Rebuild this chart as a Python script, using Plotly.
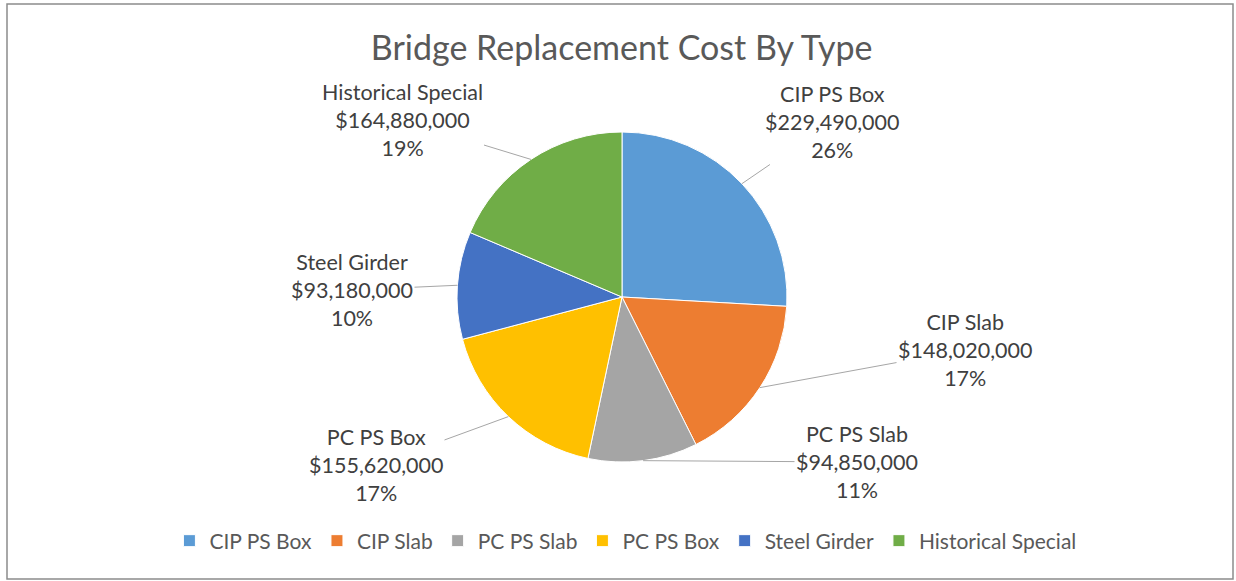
import math
import plotly.graph_objects as go

# data
types = ["CIP PS Box", "CIP Slab", "PC PS Slab", "PC PS Box", "Steel Girder", "Historical Special"]
costs = [229490000, 148020000, 94850000, 155620000, 93180000, 164880000]
pct_labels = ["26%", "17%", "11%", "17%", "10%", "19%"]
colors = ["#5B9BD5", "#ED7D31", "#A5A5A5", "#FFC000", "#4472C4", "#70AD47"]

W, H = 1236, 581
cx, cy, R = 622, 297, 165          # pie centre / radius in pixels
# where each data label sits (pixels, text centre)
label_xy = [(832, 122), (965, 350), (857, 462), (376, 465), (352, 290), (402, 120)]

fig = go.Figure(go.Pie(
    labels=types,
    values=costs,
    sort=False,
    direction="clockwise",
    rotation=0,
    textinfo="none",
    hoverinfo="label+value+percent",
    marker=dict(colors=colors, line=dict(color="white", width=1)),
    domain=dict(x=[(2 * cx / W) - 1, 1], y=[1 - (cy + R) / H, 1 - (cy - R) / H]),
))

# leader lines + labels, anchored to slice mid angles
total = sum(costs)
start = 0
for i, v in enumerate(costs):
    mid = (start + v / 2) / total * 2 * math.pi
    start += v
    ex = cx + R * math.sin(mid)
    ey = cy - R * math.cos(mid)
    tx, ty = label_xy[i]
    fig.add_annotation(
        x=ex / W, y=1 - ey / H, xref="paper", yref="paper",
        ax=tx - ex, ay=ty - ey,
        text=f"{types[i]}<br>${costs[i]:,}<br>{pct_labels[i]}",
        showarrow=True, arrowhead=0, arrowwidth=1, arrowcolor="#a6a6a6",
        font=dict(family="Lato", size=21.5, color="#404040"),
        align="center",
    )

fig.update_layout(
    width=W, height=H,
    margin=dict(l=0, r=0, t=0, b=0),
    paper_bgcolor="white",
    title=dict(text="Bridge Replacement Cost By Type", x=0.503, xanchor="center",
               y=1 - 48 / H, yanchor="middle",
               font=dict(family="Lato", size=34, color="#595959")),
    legend=dict(orientation="h", x=0.506, xanchor="center", y=1 - 541 / H, yanchor="middle",
                font=dict(family="Lato", size=21, color="#595959"), traceorder="normal"),
    shapes=[dict(type="rect", xref="paper", yref="paper",
                 x0=7 / W, x1=1233 / W, y0=1 - 579 / H, y1=1 - 4 / H,
                 line=dict(color="#8c8c8c", width=1.5))],
)

# drop the browser's default body margin so the figure sits at 0,0
fig.write_html("out.html", config={"displayModeBar": False},
               post_script="document.body.style.margin='0';")
